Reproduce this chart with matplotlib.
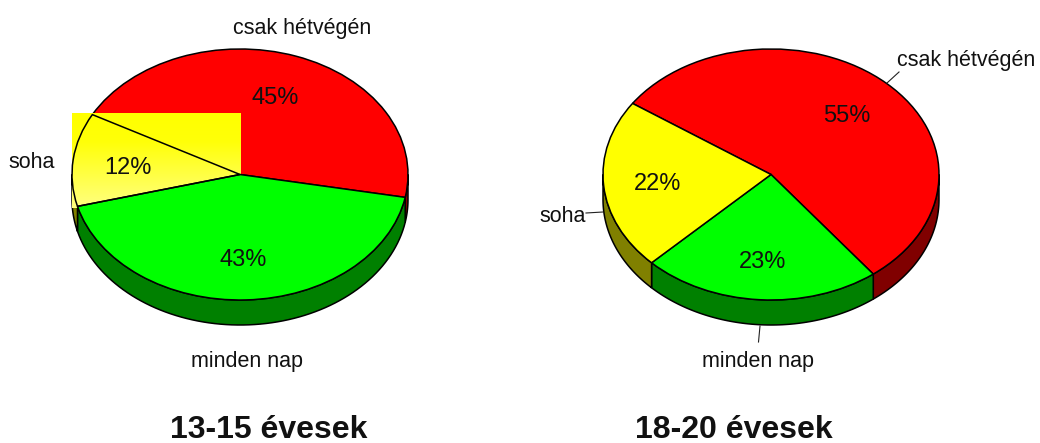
import numpy as np
import matplotlib
matplotlib.use('Agg')
import matplotlib.pyplot as plt
from matplotlib.colors import LinearSegmentedColormap

plt.rcParams['font.family'] = ['Liberation Sans', 'DejaVu Sans']

W, H = 1040, 443

categories = ['csak hétvégén', 'minden nap', 'soha']
values_13_15 = [45, 43, 12]
values_18_20 = [55, 23, 22]
titles = ['13-15 évesek', '18-20 évesek']

top_colors = ['#ff0000', '#00ff00', '#ffff00']
rim_colors = ['#800000', '#008000', '#808000']

fig = plt.figure(figsize=(W / 100, H / 100), dpi=100, facecolor='white')

RX, RY, DEPTH = 168, 125.5, 25


def px_text(x, y, s, size=15.5, **kw):
    fig.text(x / W, 1 - y / H, s, fontsize=size, ha='center', va='center',
             color='#111111', **kw)


def px_line(xs, ys):
    fig.add_artist(plt.Line2D([x / W for x in xs], [1 - y / H for y in ys],
                              color='#222222', lw=0.8))


def draw_pie(cx, cy, values, start):
    ax = fig.add_axes([(cx - RX) / W, 1 - (cy + RY) / H, 2 * RX / W, 2 * RY / H])
    wedges, _ = ax.pie(values, colors=top_colors, startangle=start, counterclock=False,
                       radius=1, wedgeprops=dict(edgecolor='black', linewidth=1.1, zorder=3))
    ax.set_aspect('auto')
    ax.set_xlim(-1, 1)
    ax.set_ylim(-1, 1)
    d = DEPTH / RY
    # side of the disc: only the part of each slice on the lower half
    for w, col in zip(wedges, rim_colors):
        for off in (0, 360):
            a = max(w.theta1 + off, 180)
            b = min(w.theta2 + off, 360)
            if a >= b:
                continue
            t = np.radians(np.linspace(a, b, 80))
            xs = np.r_[np.cos(t), np.cos(t[::-1])]
            ys = np.r_[np.sin(t), np.sin(t[::-1]) - d]
            ax.fill(xs, ys, facecolor=col, edgecolor='black', linewidth=1.1,
                    zorder=1, clip_on=False)
    for w in wedges:
        w.set_clip_on(False)
    return ax, wedges


ax1, w1 = draw_pie(240, 174.5, values_13_15, 151.5)
ax2, w2 = draw_pie(771, 174.5, values_18_20, 145.5)

# left pie has a stray gradient box behind the yellow slice
grad = LinearSegmentedColormap.from_list('g', [(0, '#ffff00'), (0.3, '#ffff08'), (1, '#ffff80')])
ax1.imshow(np.linspace(0, 1, 100).reshape(-1, 1), cmap=grad, aspect='auto', zorder=3.2,
           extent=(-1, 0, (174.5 - 208) / RY, (174.5 - 113) / RY), interpolation='bilinear')
ax1.set_xlim(-1, 1)
ax1.set_ylim(-1, 1)
w1[2].set_facecolor('none')
w1[2].set_zorder(3.4)
w1[1].set_zorder(3.3)

px_text(302, 28.5, categories[0])
px_text(247, 361.5, categories[1])
px_text(32, 162.5, categories[2])
px_text(966, 60.5, categories[0])
px_text(758, 361.5, categories[1])
px_text(563, 216, categories[2])

px_line([887, 899], [83, 72])
px_line([586, 603], [213, 212])
px_line([760, 758.5], [326, 342])

px_text(275, 97.5, f'{values_13_15[0]}%', 17)
px_text(243, 259.5, f'{values_13_15[1]}%', 17)
px_text(128, 167.5, f'{values_13_15[2]}%', 17)
px_text(847, 116.5, f'{values_18_20[0]}%', 17)
px_text(763, 261.5, f'{values_18_20[1]}%', 17)
px_text(658, 184.5, f'{values_18_20[2]}%', 17)

px_text(268.5, 430, titles[0], 23, fontweight='bold')
px_text(733.5, 430, titles[1], 23, fontweight='bold')

fig.savefig('out.png', dpi=100)
